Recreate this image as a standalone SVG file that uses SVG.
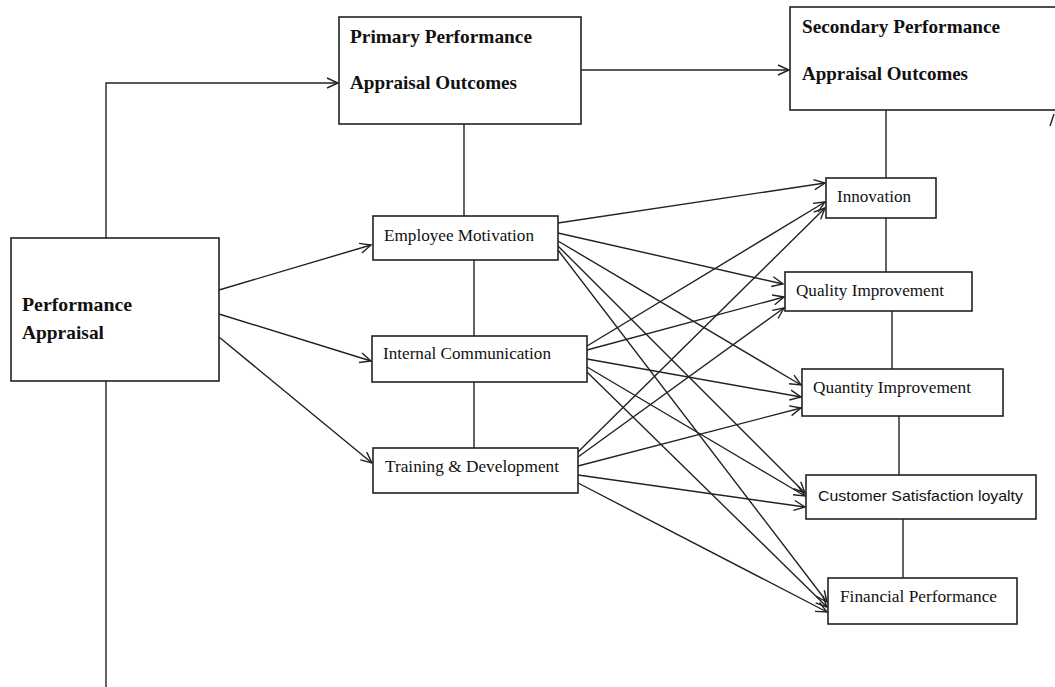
<svg xmlns="http://www.w3.org/2000/svg" width="1055" height="687" viewBox="0 0 1055 687">
<defs>
<marker id="ah" markerUnits="userSpaceOnUse" markerWidth="14" markerHeight="14" refX="12" refY="6" orient="auto">
<path d="M1,1 L12,6 L1,11" fill="none" stroke="#222" stroke-width="1.4"/>
</marker>
<style>
.box{fill:#fff;stroke:#222;stroke-width:1.6}
.ln{fill:none;stroke:#222;stroke-width:1.4}
.ar{fill:none;stroke:#222;stroke-width:1.4;marker-end:url(#ah)}
.b{font-family:"Liberation Serif",serif;font-weight:bold;font-size:19px;fill:#111}
.t{font-family:"Liberation Serif",serif;font-size:17px;fill:#111}
.s{font-family:"Liberation Sans",sans-serif;font-size:15px;fill:#111}
</style>
</defs>
<rect width="1055" height="687" fill="#fff"/>
<g id="connectors">
<polyline class="ar" points="106,238 106,83 338,83"/>
<line class="ln" x1="106" y1="381" x2="106" y2="687"/>
<line class="ar" x1="581" y1="70" x2="789" y2="70"/>
<line class="ln" x1="464" y1="124" x2="464" y2="216"/>
<line class="ln" x1="474" y1="260" x2="474" y2="336"/>
<line class="ln" x1="474" y1="382" x2="474" y2="448"/>
<line class="ln" x1="886" y1="110" x2="886" y2="178"/>
<line class="ln" x1="886" y1="218" x2="886" y2="272"/>
<line class="ln" x1="892" y1="311" x2="892" y2="369"/>
<line class="ln" x1="899" y1="416" x2="899" y2="475"/>
<line class="ln" x1="903" y1="519" x2="903" y2="578"/>
<line class="ln" x1="1050" y1="126" x2="1054" y2="114"/>
<line class="ar" x1="219" y1="290" x2="371" y2="245"/>
<line class="ar" x1="219" y1="314" x2="371" y2="361"/>
<line class="ar" x1="219" y1="337" x2="372" y2="463"/>
<line class="ar" x1="558" y1="223" x2="825" y2="183"/>
<line class="ar" x1="558" y1="233" x2="783" y2="284"/>
<line class="ar" x1="558" y1="241" x2="801" y2="385"/>
<line class="ar" x1="558" y1="246" x2="805" y2="493"/>
<line class="ar" x1="558" y1="250" x2="827" y2="602"/>
<line class="ar" x1="587" y1="346" x2="825" y2="202"/>
<line class="ar" x1="587" y1="350" x2="784" y2="297"/>
<line class="ar" x1="587" y1="359" x2="801" y2="397"/>
<line class="ar" x1="587" y1="367" x2="805" y2="496"/>
<line class="ar" x1="587" y1="372" x2="827" y2="607"/>
<line class="ar" x1="578" y1="452" x2="825" y2="208"/>
<line class="ar" x1="578" y1="457" x2="784" y2="308"/>
<line class="ar" x1="578" y1="466" x2="801" y2="408"/>
<line class="ar" x1="578" y1="475" x2="805" y2="507"/>
<line class="ar" x1="578" y1="483" x2="827" y2="612"/>
</g>
<g id="primary">
<rect class="box" x="339" y="17" width="242" height="107"/>
<text class="b" x="350" y="43" textLength="182" lengthAdjust="spacingAndGlyphs">Primary Performance</text>
<text class="b" x="350" y="89" textLength="167" lengthAdjust="spacingAndGlyphs">Appraisal Outcomes</text>
</g>
<g id="secondary">
<rect class="box" x="790" y="7" width="280" height="103"/>
<text class="b" x="802" y="33" textLength="198" lengthAdjust="spacingAndGlyphs">Secondary Performance</text>
<text class="b" x="802" y="80" textLength="166" lengthAdjust="spacingAndGlyphs">Appraisal Outcomes</text>
</g>
<g id="performance-appraisal">
<rect class="box" x="11" y="238" width="208" height="143"/>
<text class="b" x="22" y="311" textLength="110" lengthAdjust="spacingAndGlyphs">Performance</text>
<text class="b" x="22" y="339" textLength="82" lengthAdjust="spacingAndGlyphs">Appraisal</text>
</g>
<g id="employee-motivation">
<rect class="box" x="373" y="216" width="185" height="44"/>
<text class="t" x="384" y="241" textLength="150" lengthAdjust="spacingAndGlyphs">Employee Motivation</text>
</g>
<g id="internal-communication">
<rect class="box" x="372" y="336" width="215" height="46"/>
<text class="t" x="383" y="359" textLength="168" lengthAdjust="spacingAndGlyphs">Internal Communication</text>
</g>
<g id="training-development">
<rect class="box" x="373" y="448" width="205" height="45"/>
<text class="t" x="385" y="472" textLength="174" lengthAdjust="spacingAndGlyphs">Training &amp; Development</text>
</g>
<g id="innovation">
<rect class="box" x="826" y="178" width="110" height="40"/>
<text class="t" x="837" y="202" textLength="74" lengthAdjust="spacingAndGlyphs">Innovation</text>
</g>
<g id="quality-improvement">
<rect class="box" x="785" y="272" width="187" height="39"/>
<text class="t" x="796" y="296" textLength="148" lengthAdjust="spacingAndGlyphs">Quality Improvement</text>
</g>
<g id="quantity-improvement">
<rect class="box" x="802" y="369" width="201" height="47"/>
<text class="t" x="813" y="393" textLength="158" lengthAdjust="spacingAndGlyphs">Quantity Improvement</text>
</g>
<g id="customer-satisfaction">
<rect class="box" x="806" y="475" width="230" height="44"/>
<text class="s" x="818" y="501" textLength="205" lengthAdjust="spacingAndGlyphs">Customer Satisfaction loyalty</text>
</g>
<g id="financial-performance">
<rect class="box" x="828" y="578" width="189" height="46"/>
<text class="t" x="840" y="602" textLength="157" lengthAdjust="spacingAndGlyphs">Financial Performance</text>
</g>
</svg>
